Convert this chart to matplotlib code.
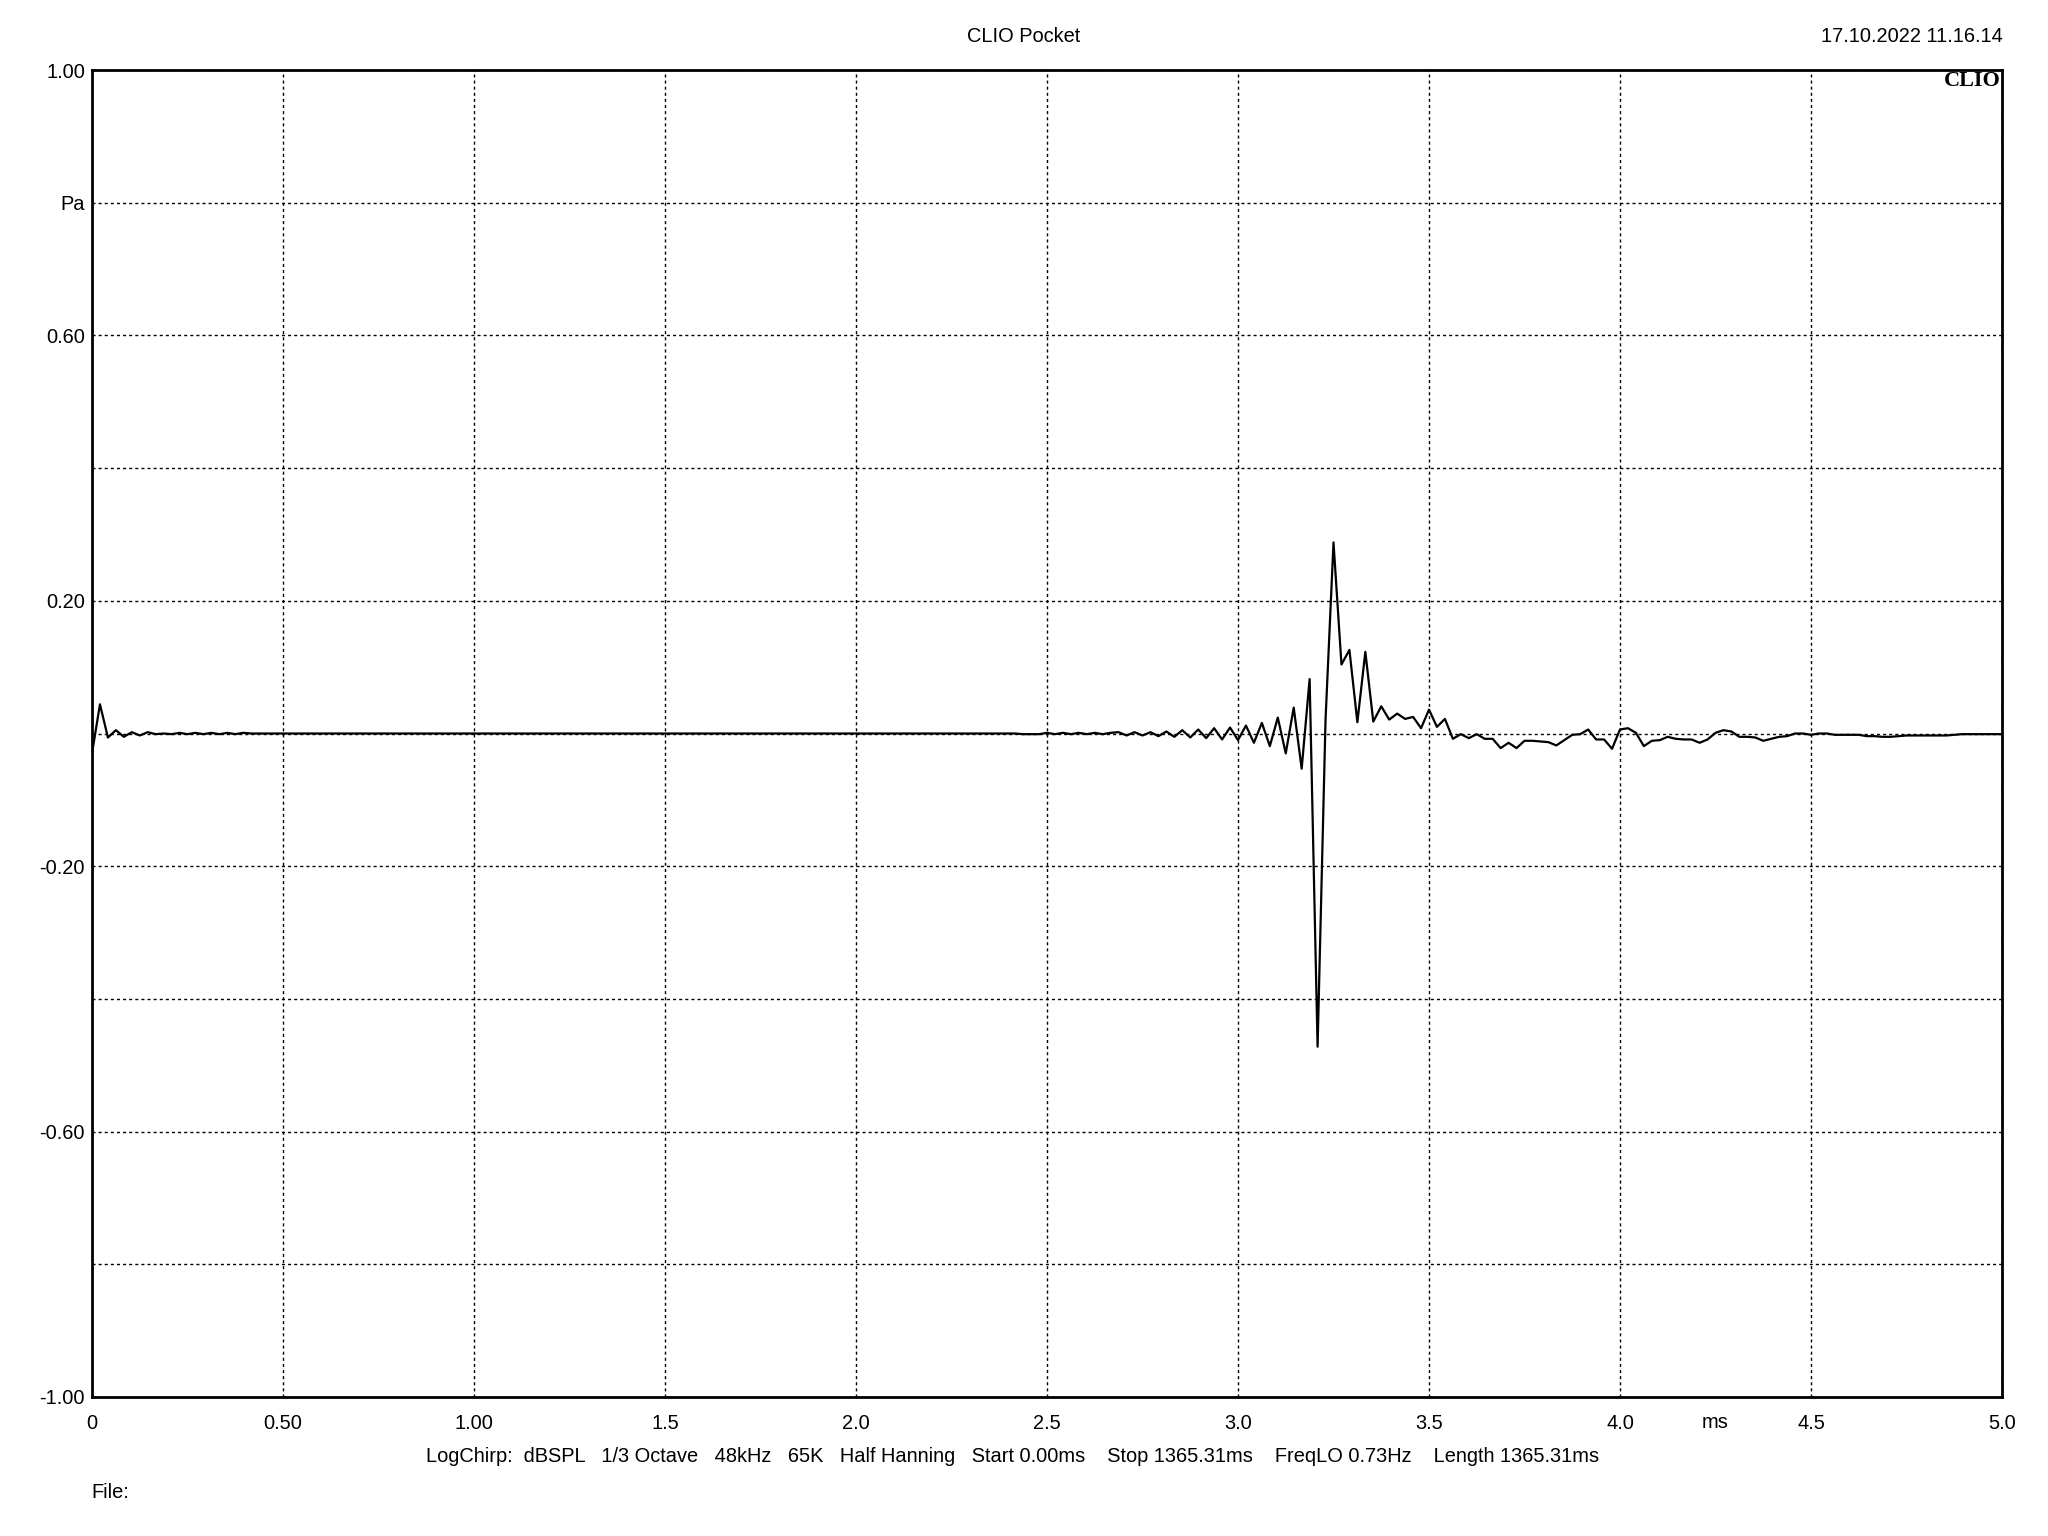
import matplotlib
matplotlib.use("Agg")
import matplotlib.pyplot as plt
import numpy as np

# Impulse response samples (Pa), 48 kHz
sample_rate_khz = 48
pressure = [
    -0.030, 0.044, -0.006, 0.005, -0.005, 0.002, -0.003, 0.002, -0.001, 0.000,
    -0.001, 0.001, -0.001, 0.001, -0.001, 0.001, -0.001, 0.001, -0.001, 0.001,
] + [0.0] * 97 + [
    -0.001, -0.001, -0.001,
    0.001, -0.001, 0.001, -0.001, 0.001, -0.001, 0.001, -0.001, 0.001,
    0.002, -0.003, 0.002, -0.003, 0.002, -0.004, 0.003, -0.005, 0.005, -0.006,
    0.006, -0.007, 0.008, -0.009, 0.009, -0.010, 0.012, -0.014, 0.016, -0.019,
    0.024, -0.030, 0.039, -0.053, 0.082, -0.472, 0.021, 0.288, 0.104, 0.126,
    0.017, 0.123, 0.018, 0.041, 0.021, 0.030, 0.022, 0.025, 0.008, 0.036,
    0.010, 0.022, -0.008, -0.001, -0.007, -0.001, -0.008, -0.008, -0.022, -0.014,
    -0.022, -0.011, -0.011, -0.012, -0.013, -0.018, -0.010, -0.002, -0.001, 0.006,
    -0.009, -0.009, -0.023, 0.006, 0.008, 0.001, -0.019, -0.011, -0.010, -0.005,
    -0.008, -0.009, -0.009, -0.014, -0.009, 0.001, 0.005, 0.003, -0.005, -0.005,
    -0.006, -0.011, -0.008, -0.005, -0.004, 0.000, 0.000, -0.002, 0.000, 0.000,
    -0.002, -0.002, -0.002, -0.002, -0.004, -0.004, -0.005, -0.005, -0.004, -0.003,
    -0.003, -0.003, -0.003, -0.003, -0.003, -0.002, -0.001, -0.001, -0.001, -0.001,
    -0.001, -0.001,
]
time_ms = np.arange(len(pressure)) / sample_rate_khz

# Axis ticks and labels
x_ticks = [0, 0.5, 1.0, 1.5, 2.0, 2.5, 3.0, 3.5, 4.0, 4.5, 5.0]
x_labels = ["0", "0.50", "1.00", "1.5", "2.0", "2.5", "3.0", "3.5", "4.0", "4.5", "5.0"]
y_ticks = [-1.0, -0.8, -0.6, -0.4, -0.2, 0.0, 0.2, 0.4, 0.6, 0.8, 1.0]
y_labels = ["-1.00", "", "-0.60", "", "-0.20", "", "0.20", "", "0.60", "Pa", "1.00"]

info_line = ("LogChirp:  dBSPL   1/3 Octave   48kHz   65K   Half Hanning   Start 0.00ms"
             "    Stop 1365.31ms    FreqLO 0.73Hz    Length 1365.31ms")

plt.rcParams["font.family"] = ["Liberation Sans", "DejaVu Sans"]
fs = 14.4

fig = plt.figure(figsize=(20.48, 15.36), dpi=100)
ax = fig.add_axes([92 / 2048, 1 - 1397 / 1536, 1910 / 2048, 1327 / 1536])

ax.plot(time_ms, pressure, color="black", linewidth=1.6)

ax.set_xlim(0, 5)
ax.set_ylim(-1, 1)
ax.set_xticks(x_ticks)
ax.set_xticklabels(x_labels)
ax.set_yticks(y_ticks)
ax.set_yticklabels(y_labels)
ax.tick_params(axis="both", length=0, labelsize=fs)
ax.tick_params(axis="x", pad=12.5)
ax.tick_params(axis="y", pad=5)

# dotted grid
ax.grid(True, color="black", linewidth=1.0, linestyle=(0, (2.2, 2.2)))
for spine in ax.spines.values():
    spine.set_linewidth(2.0)

# "ms" unit label in the x tick row
ax.text(4.25, -25 / 1327, "ms", transform=ax.get_xaxis_transform(), fontsize=fs,
        ha="center", va="center")

# header texts
fig.text(0.5, 1 - 36 / 1536, "CLIO Pocket", fontsize=fs, ha="center", va="center")
fig.text(2003 / 2048, 1 - 36 / 1536, "17.10.2022 11.16.14", fontsize=fs, ha="right", va="center")
ax.text(0.9995, 0.999, "CLIO", transform=ax.transAxes, fontsize=16, fontweight="bold",
        family="Liberation Serif", ha="right", va="top")

# footer texts
fig.text(426 / 2048, 1 - 1457 / 1536, info_line, fontsize=fs, ha="left", va="center")
fig.text(91 / 2048, 1 - 1492 / 1536, "File:", fontsize=fs, ha="left", va="center")

fig.savefig("out.png", dpi=100)
